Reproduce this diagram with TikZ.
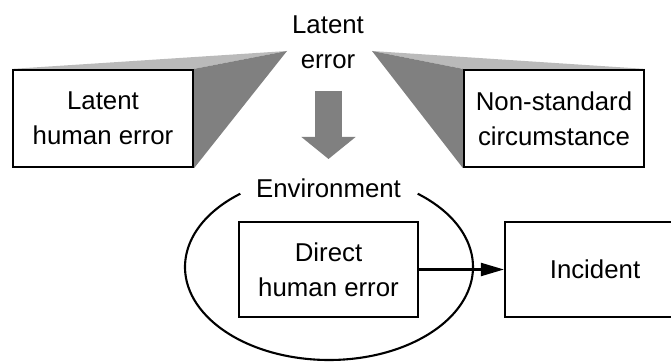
\documentclass[tikz,border=0pt]{standalone}
\usepackage{fontspec}
\setmainfont{Liberation Sans}
\usetikzlibrary{arrows.meta,backgrounds}
\begin{document}
\begin{tikzpicture}[x=1pt, y=1pt,
  txt/.style={font=\fontsize{25.8}{35}\selectfont, align=center, inner sep=0pt},
  errbox/.style={txt, draw, line width=2.2pt, minimum width=180pt, minimum height=97pt},
  topface/.style={fill=black!27},
  sideface/.style={fill=black!50},
  bigarrow/.style={draw=black!50, line width=27pt, -{Triangle[length=22pt, width=53pt]}},
  flow/.style={line width=2.1pt, -{Triangle[length=23pt, width=13pt]}}]
\useasboundingbox (0,0) rectangle (671,361);
\node[txt] (lat) at (328,318.5) {Latent\\error};
\node[errbox] (lhe) at (103,242.5) {Latent\\human error};
\node[errbox] (nsc) at (554,242.5) {Non-standard\\circumstance};
\coordinate (lvp) at (287,310);
\coordinate (rvp) at (372,310);
\begin{scope}[on background layer]
\fill[topface] (lhe.north west) -- (lvp) -- (lhe.north east) -- cycle;
\fill[sideface] (lhe.north east) -- (lvp) -- (lhe.south east) -- cycle;
\fill[topface] (nsc.north east) -- (rvp) -- (nsc.north west) -- cycle;
\fill[sideface] (nsc.north west) -- (rvp) -- (nsc.south west) -- cycle;
\end{scope}
\coordinate (dtop) at (328.5,270);
\coordinate (dtip) at (328.5,202);
\draw[bigarrow] (dtop) -- (dtip);
\coordinate (env) at (329,94);
\draw[line width=2.1pt] ([shift={(128:144 and 93)}]env) arc[start angle=128, end angle=412, x radius=144, y radius=93];
\node[txt, anchor=base] (envlbl) at (328.5,163) {Environment};
\node[errbox, minimum width=179pt, minimum height=95pt] (dhe) at (328.5,91.5) {Direct\\human error};
\node[errbox, minimum height=95pt] (inc) at (595,91.5) {Incident};
\draw[flow] (dhe) -- (inc);
\end{tikzpicture}
\end{document}
